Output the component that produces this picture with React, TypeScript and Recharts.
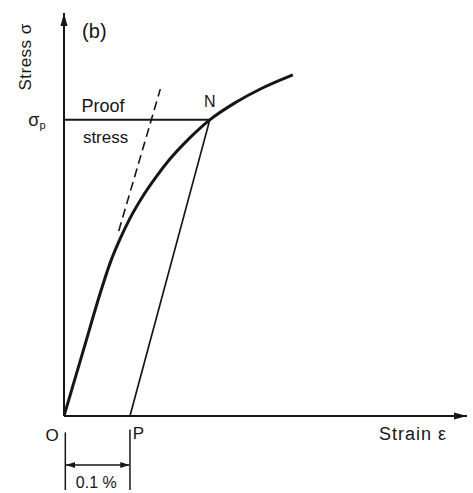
import { LineChart, Line, XAxis, YAxis, ReferenceLine, ReferenceDot } from "recharts"

// strain in %, stress in arbitrary units (proof stress ~ 99)
const curveStrain = [0, 0.03, 0.055, 0.07, 0.085, 0.1, 0.12, 0.14, 0.16, 0.19, 0.221, 0.26, 0.3, 0.347]
const curveStress = [0, 22.5, 41.2, 51.3, 59.3, 66.2, 73.8, 80.2, 85.9, 93, 99.2, 105, 109.8, 114.3]

// dashed extension of the elastic part
const elasticStrain = [0.083, 0.146]
const elasticStress = [62, 109.5]

// unloading line from P (0.1 % offset) up to N
const offsetStrain = [0.1, 0.221]
const offsetStress = [0, 99.2]

// proof stress level
const proofStrain = [0, 0.221]
const proofStress = [99.2, 99.2]

const xMax = 0.611
const yMax = 135

const toPoints = (xs: number[], ys: number[]) => xs.map((x, i) => ({ x, y: ys[i] }))

const curveData = toPoints(curveStrain, curveStress)
const elasticData = toPoints(elasticStrain, elasticStress)
const offsetData = toPoints(offsetStrain, offsetStress)
const proofData = toPoints(proofStrain, proofStress)

const ink = "#161616"
const font = "'Liberation Sans', Arial, sans-serif"

const arrowHead = (x: number, y: number, angle: number, len = 11, half = 3.5) => {
  const cos = Math.cos(angle)
  const sin = Math.sin(angle)
  const bx = x - len * cos
  const by = y - len * sin
  return `${x},${y} ${bx - half * sin},${by + half * cos} ${bx + half * sin},${by - half * cos}`
}

const ArrowLine = (props: any) => {
  const { x1, y1, x2, y2, strokeWidth = 2, both = false, len = 11, half = 3.5 } = props
  const angle = Math.atan2(y2 - y1, x2 - x1)
  return (
    <g>
      <line x1={x1} y1={y1} x2={x2} y2={y2} stroke={ink} strokeWidth={strokeWidth} />
      <polygon points={arrowHead(x2, y2, angle, len, half)} fill={ink} />
      {both && <polygon points={arrowHead(x1, y1, angle + Math.PI, len, half)} fill={ink} />}
    </g>
  )
}

const makeText = (text: any, size = 17, rotate = 0, extra: any = {}) => (p: any) => (
  <text
    x={p.cx}
    y={p.cy}
    textAnchor="middle"
    dominantBaseline="central"
    fontFamily={font}
    fontSize={size}
    fill={ink}
    transform={rotate ? `rotate(${rotate} ${p.cx} ${p.cy})` : undefined}
    {...extra}
  >
    {text}
  </text>
)

const labels = [
  { x: -0.059, y: 120.3, shape: makeText("Stress σ", 17, -90, { letterSpacing: 0.5 }) },
  {
    x: -0.041,
    y: 99,
    shape: makeText(
      <>
        <tspan>σ</tspan>
        <tspan fontSize={11} dy={5}>
          p
        </tspan>
      </>,
      18
    ),
  },
  { x: 0.046, y: 129, shape: makeText("(b)", 20) },
  { x: 0.059, y: 104, shape: makeText("Proof", 18) },
  { x: 0.063, y: 93.4, shape: makeText("stress", 17) },
  { x: 0.221, y: 105.4, shape: makeText("N", 16) },
  { x: -0.018, y: -6.4, shape: makeText("O", 17) },
  { x: 0.113, y: -6, shape: makeText("P", 17) },
  { x: 0.529, y: -6, shape: makeText("Strain ε", 18, 0, { letterSpacing: 1 }) },
  { x: 0.049, y: -22.4, shape: makeText("0.1 %", 16) },
]

export default function App() {
  return (
    <div style={{ position: "absolute", left: 0, top: 0, width: 473, height: 493, background: "#fff" }}>
      <LineChart width={473} height={493} margin={{ top: 13, right: 6, left: 64, bottom: 77 }}>
        <XAxis dataKey="x" type="number" domain={[0, xMax]} hide allowDataOverflow />
        <YAxis dataKey="y" type="number" domain={[0, yMax]} hide allowDataOverflow />

        <ReferenceLine
          segment={[{ x: 0, y: 0 }, { x: 0, y: yMax }]}
          ifOverflow="visible"
          shape={(p: any) => <ArrowLine {...p} strokeWidth={2} len={13} half={3.5} />}
        />
        <ReferenceLine
          segment={[{ x: 0, y: 0 }, { x: xMax, y: 0 }]}
          ifOverflow="visible"
          shape={(p: any) => <ArrowLine {...p} strokeWidth={2.2} len={13} half={3.5} />}
        />

        {/* 0.1 % dimension below the axis */}
        <ReferenceLine
          segment={[{ x: 0.002, y: -5.5 }, { x: 0.002, y: -24.8 }]}
          ifOverflow="visible"
          stroke={ink}
          strokeWidth={1.5}
        />
        <ReferenceLine
          segment={[{ x: 0.1, y: -4.5 }, { x: 0.1, y: -24.8 }]}
          ifOverflow="visible"
          stroke={ink}
          strokeWidth={1.5}
        />
        <ReferenceLine
          segment={[{ x: 0.003, y: -16.4 }, { x: 0.099, y: -16.4 }]}
          ifOverflow="visible"
          shape={(p: any) => <ArrowLine {...p} strokeWidth={1.5} both len={9} half={3} />}
        />

        <Line
          data={proofData}
          dataKey="y"
          type="linear"
          stroke={ink}
          strokeWidth={2}
          dot={false}
          activeDot={false}
          isAnimationActive={false}
        />
        <Line
          data={elasticData}
          dataKey="y"
          type="linear"
          stroke={ink}
          strokeWidth={1.6}
          strokeDasharray="9 5"
          dot={false}
          activeDot={false}
          isAnimationActive={false}
        />
        <Line
          data={offsetData}
          dataKey="y"
          type="linear"
          stroke={ink}
          strokeWidth={1.7}
          dot={false}
          activeDot={false}
          isAnimationActive={false}
        />
        <Line
          data={curveData}
          dataKey="y"
          type="monotone"
          stroke={ink}
          strokeWidth={3}
          dot={false}
          activeDot={false}
          isAnimationActive={false}
        />

        {labels.map((l, i) => (
          <ReferenceDot key={i} x={l.x} y={l.y} r={0} ifOverflow="visible" shape={l.shape} />
        ))}
      </LineChart>
    </div>
  )
}
